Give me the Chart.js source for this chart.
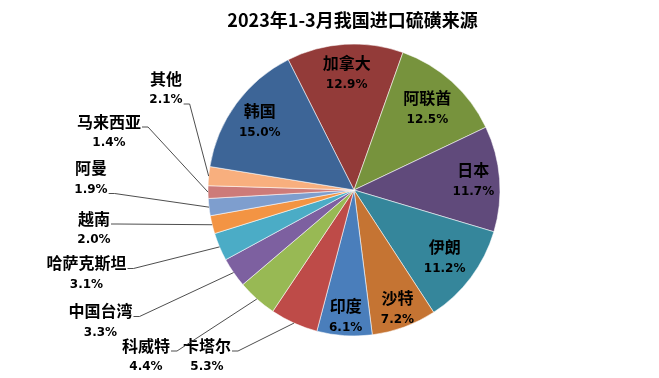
<!DOCTYPE html>
<html><head><meta charset="utf-8">
<script src="https://cdn.jsdelivr.net/npm/chart.js@4.4.0/dist/chart.umd.min.js"></script>
<style>html,body{margin:0;padding:0;background:#fff;}#wrap{width:659px;height:378px;position:relative;}</style>
</head><body><div id="wrap"><canvas id="c" width="659" height="378"></canvas></div>
<script>
// ---- data ----
const chartTitle = '2023年1-3月我国进口硫磺来源';
const categories = ['加拿大','阿联酋','日本','伊朗','沙特','印度','卡塔尔','科威特','中国台湾','哈萨克斯坦','越南','阿曼','马来西亚','其他','韩国'];
const shares = [12.9,12.5,11.7,11.2,7.2,6.1,5.3,4.4,3.3,3.1,2.0,1.9,1.4,2.1,15.0];

// ---- styles / layout ----
const sliceColors = ['#933B39','#77933D','#604A7B','#35869B','#C57433','#4A7EBB','#BE4B48','#98B954','#7D60A0','#4BACC6','#F39443','#7E9ECE','#CD7B79','#F8AF7E','#3D6597'];
const insideRadius = {0:0.80,1:0.75,2:0.82,3:0.775,4:0.865,5:0.87,14:0.80};
const outsideLabels = {
  6:{x:207,y:345.5,attach:'name'},
  7:{x:146,y:345.5,attach:'name'},
  8:{x:100.5,y:311,attach:'name'},
  9:{x:86.5,y:263,attach:'name'},
  10:{x:94,y:218.5,attach:'name'},
  11:{x:91,y:168,attach:'pct'},
  12:{x:109,y:121.5,attach:'name'},
  13:{x:166,y:78.5,attach:'pct'}
};
const NAME_FONT = 'bold 16px "Noto Sans CJK SC", sans-serif';
const PCT_FONT = 'bold 12px "DejaVu Sans", sans-serif';
const LINE_GAP = 21;

const labelPlugin = {
  id: 'labels',
  afterDatasetsDraw(chart) {
    const ctx = chart.ctx;
    const meta = chart.getDatasetMeta(0);
    ctx.save();
    ctx.textAlign = 'center';
    ctx.textBaseline = 'middle';
    ctx.fillStyle = '#000';
    meta.data.forEach((arc, i) => {
      const p = arc.getProps(['x','y','startAngle','endAngle','outerRadius'], true);
      const mid = (p.startAngle + p.endAngle) / 2;
      const name = categories[i];
      const pct = shares[i].toFixed(1) + '%';
      if (insideRadius[i] !== undefined) {
        const r = p.outerRadius * insideRadius[i];
        const cx = p.x + Math.cos(mid) * r;
        const cy = p.y + Math.sin(mid) * r;
        ctx.font = NAME_FONT;
        ctx.fillText(name, cx, cy - LINE_GAP / 2);
        ctx.font = PCT_FONT;
        ctx.fillText(pct, cx, cy + LINE_GAP / 2 + 1);
      } else if (outsideLabels[i]) {
        const L = outsideLabels[i];
        ctx.font = NAME_FONT;
        const nw = ctx.measureText(name).width;
        ctx.fillText(name, L.x, L.y);
        ctx.font = PCT_FONT;
        const pw = ctx.measureText(pct).width;
        ctx.fillText(pct, L.x, L.y + LINE_GAP + 0.5);
        let sx, sy;
        if (L.attach === 'name') { sx = L.x + nw / 2 + 1; sy = L.y + 5.5; }
        else { sx = L.x + pw / 2 + 1; sy = L.y + LINE_GAP + 4.5; }
        const ex = p.x + Math.cos(mid) * p.outerRadius;
        const ey = p.y + Math.sin(mid) * p.outerRadius;
        ctx.strokeStyle = '#3a3a3a';
        ctx.lineWidth = 0.9;
        ctx.beginPath();
        ctx.moveTo(sx, sy);
        ctx.lineTo(sx + 6, sy);
        ctx.lineTo(ex, ey);
        ctx.stroke();
      }
    });
    ctx.font = 'bold 18px "Noto Sans CJK SC", sans-serif';
    ctx.fillText(chartTitle, 352.5, 20.5);
    ctx.restore();
  }
};

new Chart(document.getElementById('c'), {
  type: 'pie',
  data: {
    labels: categories,
    datasets: [{
      data: shares,
      backgroundColor: sliceColors,
      borderColor: 'rgba(255,255,255,0.55)',
      borderWidth: 1,
      hoverOffset: 0
    }]
  },
  options: {
    responsive: false,
    animation: false,
    devicePixelRatio: 1,
    radius: 146,
    rotation: -26.8,
    layout: { padding: { left: 208, right: 159, top: 44, bottom: 42 } },
    plugins: { legend: { display: false }, tooltip: { enabled: false }, title: { display: false } }
  },
  plugins: [labelPlugin]
});
</script></body></html>
